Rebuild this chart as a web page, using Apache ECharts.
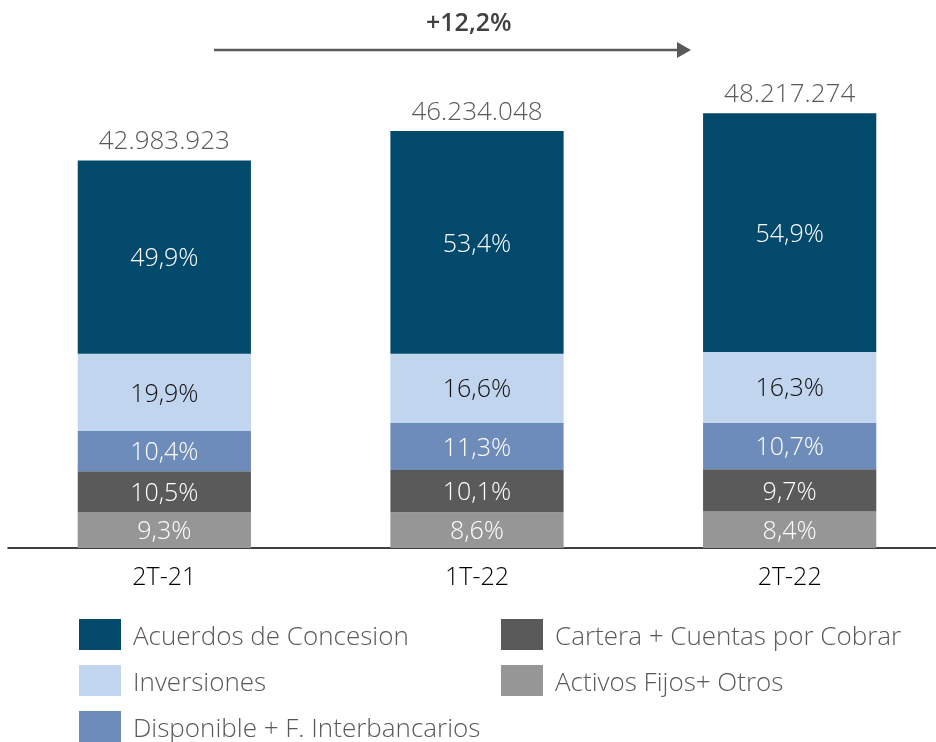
<!DOCTYPE html>
<html>
<head>
<meta charset="utf-8">
<script src="https://cdn.jsdelivr.net/npm/echarts@6/dist/echarts.min.js"></script>
<style>
  html, body { margin: 0; padding: 0; background: #ffffff; }
  #chart { width: 936px; height: 742px; }
</style>
</head>
<body>
<div id="chart"></div>
<script>
// Periods and total assets per period
const periods = ['2T-21', '1T-22', '2T-22'];
const totals = [42983923, 46234048, 48217274];

// Share of each asset group in the total (%), per period
const acuerdos = [49.9, 53.4, 54.9];
const inversiones = [19.9, 16.6, 16.3];
const disponible = [10.4, 11.3, 10.7];
const cartera = [10.5, 10.1, 9.7];
const activos = [9.3, 8.6, 8.4];

const growthLabel = '+12,2%';

const FONT = '"Open Sans", "DejaVu Sans", sans-serif';

function fmtPct(v) { return v.toFixed(1).replace('.', ',') + '%'; }
function fmtTotal(v) { return String(v).replace(/\B(?=(\d{3})+(?!\d))/g, '.'); }

// Segment value = period total * share
function segment(name, shares, color, labelColor) {
  return {
    name: name,
    type: 'bar',
    stack: 'total',
    barWidth: '55.4%',
    itemStyle: { color: color },
    label: {
      show: true,
      position: 'inside',
      offset: [0, 2],
      color: labelColor,
      fontFamily: FONT,
      fontWeight: 300,
      fontSize: 25,
      formatter: p => fmtPct(shares[p.dataIndex])
    },
    data: shares.map((s, i) => totals[i] * s / 100)
  };
}

// One legend entry per slot, two columns
function legendItem(name, left, top) {
  return {
    data: [name],
    left: left, top: top,
    padding: 0,
    itemWidth: 42, itemHeight: 31,
    icon: 'rect',
    formatter: '{t|{name}}',
    textStyle: {
      color: '#595959', fontFamily: FONT, fontWeight: 300, fontSize: 26,
      rich: { t: { color: '#595959', fontFamily: FONT, fontWeight: 300, fontSize: 26, padding: [6, 0, 0, 7] } }
    }
  };
}

const chart = echarts.init(document.getElementById('chart'));
chart.setOption({
  animation: false,
  backgroundColor: '#ffffff',
  grid: { left: 8, top: 7, width: 938, height: 541, outerBoundsMode: 'none' },
  xAxis: {
    type: 'category',
    data: periods,
    axisLine: { lineStyle: { color: '#000000', width: 1.5 } },
    axisTick: { show: false },
    axisLabel: { color: '#000000', fontFamily: FONT, fontWeight: 300, fontSize: 25, margin: 17 }
  },
  yAxis: { type: 'value', min: 0, max: 60000000, show: false, splitLine: { show: false } },
  legend: [
    legendItem('Acuerdos de Concesion', 79, 619),
    legendItem('Inversiones', 79, 665),
    legendItem('Disponible + F. Interbancarios', 79, 711),
    legendItem('Cartera + Cuentas por Cobrar', 501, 619),
    legendItem('Activos Fijos+ Otros', 501, 665)
  ],
  series: [
    segment('Activos Fijos+ Otros', activos, '#969696', '#ffffff'),
    segment('Cartera + Cuentas por Cobrar', cartera, '#5a5a5a', '#ffffff'),
    segment('Disponible + F. Interbancarios', disponible, '#6e8cb9', '#ffffff'),
    segment('Inversiones', inversiones, '#c1d5ee', '#111111'),
    segment('Acuerdos de Concesion', acuerdos, '#02496b', '#ffffff'),
    {
      name: 'Total',
      type: 'bar',
      barWidth: '55.4%',
      barGap: '-100%',
      itemStyle: { color: 'rgba(0,0,0,0)' },
      silent: true,
      z: 1,
      label: {
        show: true,
        position: 'top',
        distance: 6,
        color: '#595959',
        fontFamily: FONT,
        fontWeight: 300,
        fontSize: 26,
        formatter: p => fmtTotal(p.value)
      },
      data: totals
    }
  ],
  graphic: [
    {
      type: 'line',
      shape: { x1: 214, y1: 50, x2: 680, y2: 50 },
      style: { stroke: '#595959', lineWidth: 2.5 }
    },
    {
      type: 'polygon',
      shape: { points: [[677, 42], [691, 50], [677, 58]] },
      style: { fill: '#595959' }
    },
    {
      type: 'text',
      left: 426, top: 11,
      style: { text: growthLabel, fill: '#404040', font: '600 25px ' + FONT }
    }
  ]
});
</script>
</body>
</html>
